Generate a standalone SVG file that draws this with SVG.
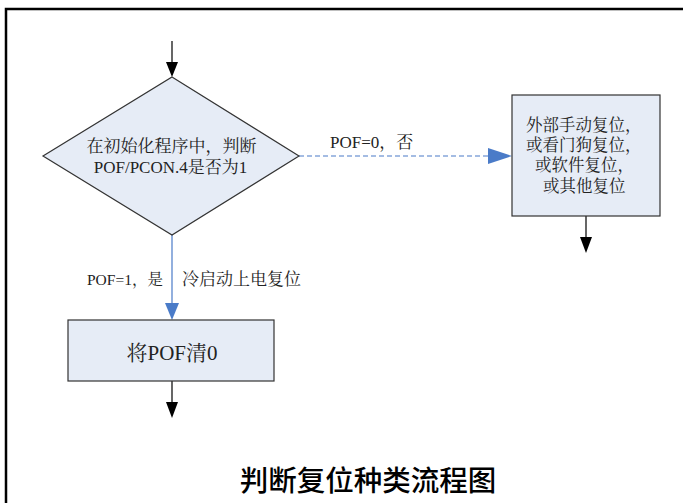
<svg xmlns="http://www.w3.org/2000/svg" width="683" height="503" viewBox="0 0 683 503">
<style>
.shape{fill:#e6ecf6;stroke:#333;stroke-width:1.2}
.t{font-family:"Liberation Serif","Noto Serif CJK SC","Noto Sans CJK SC",serif;fill:#222}
.blk{stroke:#000;stroke-width:1.2;fill:none}
.blue{stroke:#4a7bc8;stroke-width:1.2;fill:none}
</style>
<rect x="6" y="9" width="700" height="520" fill="none" stroke="#000" stroke-width="2.5"/>
<g id="connectors">
<line x1="172" y1="41" x2="172" y2="62" class="blk"/>
<path d="M166,62 L178,62 L172,77 Z" fill="#000"/>
<line x1="299" y1="156" x2="490" y2="156" class="blue" stroke-dasharray="5,3"/>
<path d="M488,148 L512,156 L488,164 Z" fill="#4a7bc8"/>
<line x1="172" y1="235" x2="172" y2="304" class="blue"/>
<path d="M165,303 L179,303 L172,320 Z" fill="#4a7bc8"/>
<line x1="586" y1="216" x2="586" y2="238" class="blk"/>
<path d="M580,237 L592,237 L586,253 Z" fill="#000"/>
<line x1="172" y1="381" x2="172" y2="403" class="blk"/>
<path d="M166,402 L178,402 L172,418 Z" fill="#000"/>
<text class="t" x="330" y="148" font-size="17">POF=0，否</text>
<text class="t" x="87" y="285" font-size="15.5">POF=1，是</text>
<text class="t" x="182" y="285" font-size="17">冷启动上电复位</text>
</g>
<g id="decision">
<polygon points="172,77 299,156 172,235 43,156" class="shape"/>
<text class="t" x="171.5" y="152" font-size="17" text-anchor="middle">在初始化程序中，判断</text>
<text class="t" x="170.5" y="173" font-size="17" text-anchor="middle">POF/PCON.4是否为1</text>
</g>
<g id="other-reset">
<rect x="512" y="95" width="148" height="121" class="shape"/>
<text class="t" x="526" y="131" font-size="16.5">外部手动复位，</text>
<text class="t" x="526" y="151" font-size="16.5">或看门狗复位，</text>
<text class="t" x="535" y="171" font-size="16.5">或软件复位，</text>
<text class="t" x="543" y="192" font-size="16.5">或其他复位</text>
</g>
<g id="clear-pof">
<rect x="68" y="320" width="206" height="61" class="shape"/>
<text class="t" x="172" y="360" font-size="21" text-anchor="middle">将POF清0</text>
</g>
<text x="368" y="491" font-size="28.5" text-anchor="middle" font-family="'Noto Sans CJK SC',sans-serif" font-weight="500" fill="#000">判断复位种类流程图</text>
</svg>
